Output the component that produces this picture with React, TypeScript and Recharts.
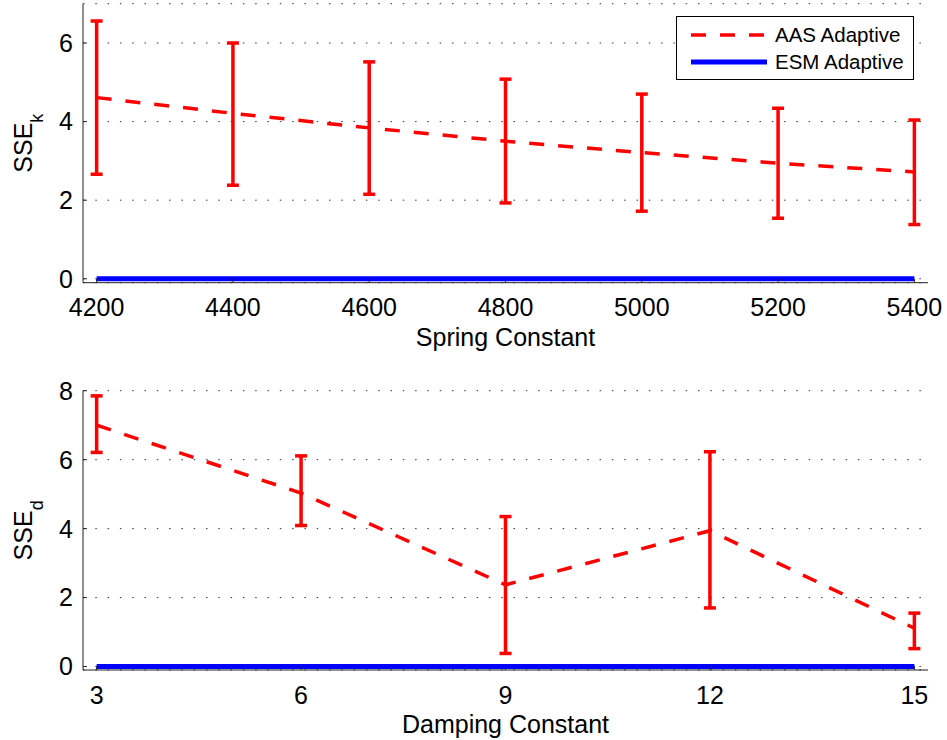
import React from "react";
import {
  CartesianGrid,
  ErrorBar,
  Legend,
  Line,
  LineChart,
  XAxis,
  YAxis,
} from "recharts";

const FONT = '"Liberation Sans", Arial, Helvetica, sans-serif';

// top panel: spring constant
const springConstants = [4200, 4400, 4600, 4800, 5000, 5200, 5400];
const aasSpringMean = [4.61, 4.21, 3.84, 3.5, 3.21, 2.94, 2.72];
const aasSpringLow = [2.66, 2.38, 2.15, 1.93, 1.72, 1.54, 1.38];
const aasSpringHigh = [6.56, 6.0, 5.52, 5.08, 4.7, 4.34, 4.04];
const esmSpring = [0, 0, 0, 0, 0, 0, 0];
const springTicks = [4200, 4400, 4600, 4800, 5000, 5200, 5400];
const springYTicks = [0, 2, 4, 6];

// bottom panel: damping constant
const dampingConstants = [3, 6, 9, 12, 15];
const aasDampMean = [7.0, 5.03, 2.37, 3.94, 1.11];
const aasDampLow = [6.21, 4.09, 0.38, 1.7, 0.52];
const aasDampHigh = [7.85, 6.11, 4.35, 6.23, 1.55];
const esmDamp = [0, 0, 0, 0, 0];
const dampTicks = [3, 6, 9, 12, 15];
const dampYTicks = [0, 2, 4, 6, 8];

const springData = springConstants.map((x, i) => ({
  x,
  aas: aasSpringMean[i],
  err: [aasSpringMean[i] - aasSpringLow[i], aasSpringHigh[i] - aasSpringMean[i]],
  esm: esmSpring[i],
}));

const dampData = dampingConstants.map((x, i) => ({
  x,
  aas: aasDampMean[i],
  err: [aasDampMean[i] - aasDampLow[i], aasDampHigh[i] - aasDampMean[i]],
  esm: esmDamp[i],
}));

const RED = "#ff0000";
const BLUE = "#0000ff";
const tickStyle = { fontSize: 25, fill: "#000", fontFamily: FONT };

function yLabel(main: string, sub: string) {
  return (props: any) => {
    const vb = props.viewBox || {};
    const cx = (vb.x ?? 0) + 32;
    const cy = (vb.y ?? 0) + (vb.height ?? 0) / 2;
    return (
      <text
        x={cx}
        y={cy}
        transform={`rotate(-90, ${cx}, ${cy})`}
        textAnchor="middle"
        fontFamily={FONT}
        fontSize={25}
        fill="#000"
      >
        {main}
        <tspan dy={11} fontSize={18}>
          {sub}
        </tspan>
      </text>
    );
  };
}

const renderLegend = (props: any) => {
  const items = props.payload || [];
  return (
    <div
      style={{
        border: "1.5px solid #000",
        background: "#fff",
        padding: "4px 0",
        fontFamily: FONT,
        fontSize: 20.5,
        width: 238,
        boxSizing: "border-box",
      }}
    >
      {items.map((entry: any) => {
        const p = entry.payload || {};
        return (
          <div key={entry.value} style={{ display: "flex", alignItems: "center", height: 27 }}>
            <svg width={98} height={10} style={{ flex: "none" }}>
              <line
                x1={14}
                x2={90}
                y1={5}
                y2={5}
                stroke={entry.color}
                strokeWidth={p.strokeWidth ?? 4}
                strokeDasharray={p.strokeDasharray}
              />
            </svg>
            <span style={{ color: "#000" }}>{entry.value}</span>
          </div>
        );
      })}
    </div>
  );
};

export default function App() {
  return (
    <div style={{ position: "absolute", left: 0, top: 0, width: 947, height: 740, background: "#fff" }}>
      <div style={{ position: "absolute", left: 0, top: 0 }}>
        <LineChart
          width={947}
          height={360}
          data={springData}
          margin={{ top: 3.7, right: 19, bottom: 0, left: 0 }}
        >
          <CartesianGrid vertical={false} stroke="#333" strokeDasharray="1.5 10.8" />
          <XAxis
            dataKey="x"
            type="number"
            domain={[4180, 5420]}
            ticks={springTicks}
            interval={0}
            allowDataOverflow
            height={77.3}
            tick={tickStyle}
            tickSize={-4}
            tickMargin={20}
            axisLine={{ stroke: "#222", strokeWidth: 1 }}
            tickLine={{ stroke: "#222" }}
            label={{
              value: "Spring Constant",
              position: "insideBottom",
              offset: 14,
              fontSize: 25,
              fill: "#000",
              fontFamily: FONT,
            }}
          />
          <YAxis
            type="number"
            domain={[-0.1, 7]}
            ticks={springYTicks}
            interval={0}
            allowDataOverflow
            width={83}
            tick={tickStyle}
            tickSize={-4}
            tickMargin={14}
            axisLine={{ stroke: "#222", strokeWidth: 1 }}
            tickLine={{ stroke: "#222" }}
            label={yLabel("SSE", "k")}
          />
          <Legend
            layout="horizontal"
            verticalAlign="middle"
            content={renderLegend}
            wrapperStyle={{ left: 676, top: 16, width: 240 }}
          />
          <Line
            dataKey="aas"
            name="AAS Adaptive"
            stroke={RED}
            strokeWidth={3.5}
            strokeDasharray="15 14"
            dot={false}
            activeDot={false}
            isAnimationActive={false}
          >
            <ErrorBar dataKey="err" direction="y" width={6} stroke={RED} strokeWidth={3.5} isAnimationActive={false} />
          </Line>
          <Line
            dataKey="esm"
            name="ESM Adaptive"
            stroke={BLUE}
            strokeWidth={5}
            dot={false}
            activeDot={false}
            isAnimationActive={false}
          />
        </LineChart>
      </div>
      <div style={{ position: "absolute", left: 0, top: 350 }}>
        <LineChart
          width={947}
          height={390}
          data={dampData}
          margin={{ top: 40.7, right: 19, bottom: 0, left: 0 }}
        >
          <CartesianGrid vertical={false} stroke="#333" strokeDasharray="1.5 10.8" />
          <XAxis
            dataKey="x"
            type="number"
            domain={[2.8, 15.2]}
            ticks={dampTicks}
            interval={0}
            allowDataOverflow
            height={70}
            tick={tickStyle}
            tickSize={-4}
            tickMargin={20}
            axisLine={{ stroke: "#222", strokeWidth: 1 }}
            tickLine={{ stroke: "#222" }}
            label={{
              value: "Damping Constant",
              position: "insideBottom",
              offset: 7,
              fontSize: 25,
              fill: "#000",
              fontFamily: FONT,
            }}
          />
          <YAxis
            type="number"
            domain={[-0.1, 8]}
            ticks={dampYTicks}
            interval={0}
            allowDataOverflow
            width={83}
            tick={tickStyle}
            tickSize={-4}
            tickMargin={14}
            axisLine={{ stroke: "#222", strokeWidth: 1 }}
            tickLine={{ stroke: "#222" }}
            label={yLabel("SSE", "d")}
          />
          <Line
            dataKey="aas"
            name="AAS Adaptive"
            stroke={RED}
            strokeWidth={3.5}
            strokeDasharray="15 14"
            dot={false}
            activeDot={false}
            isAnimationActive={false}
          >
            <ErrorBar dataKey="err" direction="y" width={6} stroke={RED} strokeWidth={3.5} isAnimationActive={false} />
          </Line>
          <Line
            dataKey="esm"
            name="ESM Adaptive"
            stroke={BLUE}
            strokeWidth={5}
            dot={false}
            activeDot={false}
            isAnimationActive={false}
          />
        </LineChart>
      </div>
    </div>
  );
}
